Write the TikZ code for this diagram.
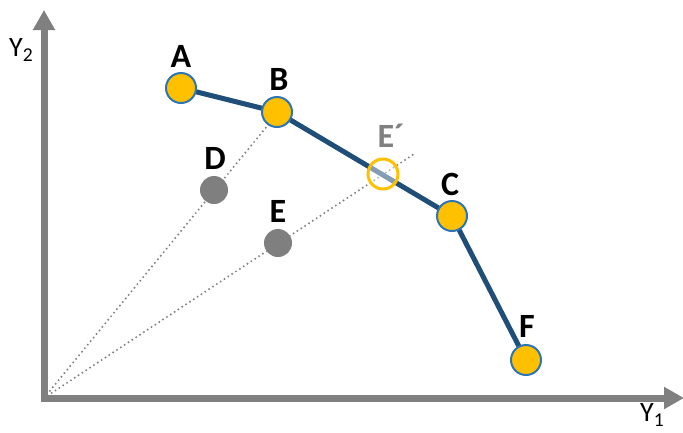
\documentclass[tikz,border=0pt]{standalone}
\usepackage{fontspec}
\setmainfont{Carlito}
\usetikzlibrary{arrows.meta}
\definecolor{axisgray}{HTML}{808080}
\definecolor{ptgray}{HTML}{7F7F7F}
\definecolor{lineblue}{HTML}{1F4E79}
\definecolor{ringblue}{HTML}{2E75B6}
\definecolor{gold}{HTML}{FFC000}
\begin{document}
\begin{tikzpicture}[x=1pt,y=-1pt,
  axisline/.style={draw=axisgray,line width=7pt,-{Triangle[width=21pt,length=20pt]}},
  frontier/.style={draw=lineblue,line width=5pt},
  ray/.style={draw=axisgray,line width=2.2pt,line cap=round,dash pattern=on 0pt off 4.6pt},
  orangept/.style={circle,fill=gold,draw=ringblue,line width=2pt,minimum size=30pt,inner sep=0pt},
  graypt/.style={circle,fill=ptgray,minimum size=28pt,inner sep=0pt},
  openpt/.style={circle,draw=gold,line width=3pt,fill=white,fill opacity=0.45,minimum size=30pt,inner sep=0pt},
  lbl/.style={font=\fontsize{34}{34}\selectfont\bfseries,inner sep=0pt},
  axlbl/.style={font=\fontsize{28}{28}\selectfont,inner sep=0pt}]
\useasboundingbox (0,0) rectangle (683,432);
\coordinate (O) at (44,398);
\coordinate (ytop) at (44,10);
\coordinate (xend) at (684,398);
\coordinate (ystart) at (44,401.5);
\coordinate (xstart) at (40.5,398);
\draw[axisline] (ystart) -- (ytop);
\draw[axisline] (xstart) -- (xend);
% rays
\coordinate (Bray) at (273,119);
\coordinate (Eray) at (414,154);
\draw[ray] (O) -- (Bray);
\draw[ray] (O) -- (Eray);
% frontier
\coordinate (cA) at (181,88);
\coordinate (cB) at (277,112);
\coordinate (cC) at (452,216);
\coordinate (cF) at (526,360);
\draw[frontier,line join=round] (cA) -- (cB) -- (cC) -- (cF);
% points
\node[orangept] (A) at (cA) {};
\node[orangept] (B) at (cB) {};
\node[orangept] (C) at (cC) {};
\node[orangept] (F) at (cF) {};
\node[graypt] (D) at (214,190) {};
\node[graypt] (E) at (278,243) {};
\node[openpt,text opacity=1] (Ep) at (383,174) {};
% labels
\node[lbl] (lA) at (181,56) {A};
\node[lbl] (lB) at (279,79) {B};
\node[lbl] (lC) at (450,184) {C};
\node[lbl] (lF) at (527,326) {F};
\node[lbl] (lD) at (215,158) {D};
\node[lbl] (lE) at (278,211) {E};
\node[lbl,text=axisgray] (lEp) at (391,136) {E\char"00B4};
\node[axlbl,anchor=west] (y2) at (9,50) {Y\textsubscript{2}};
\node[axlbl,anchor=west] (y1) at (640,415) {Y\textsubscript{1}};
\end{tikzpicture}
\end{document}
